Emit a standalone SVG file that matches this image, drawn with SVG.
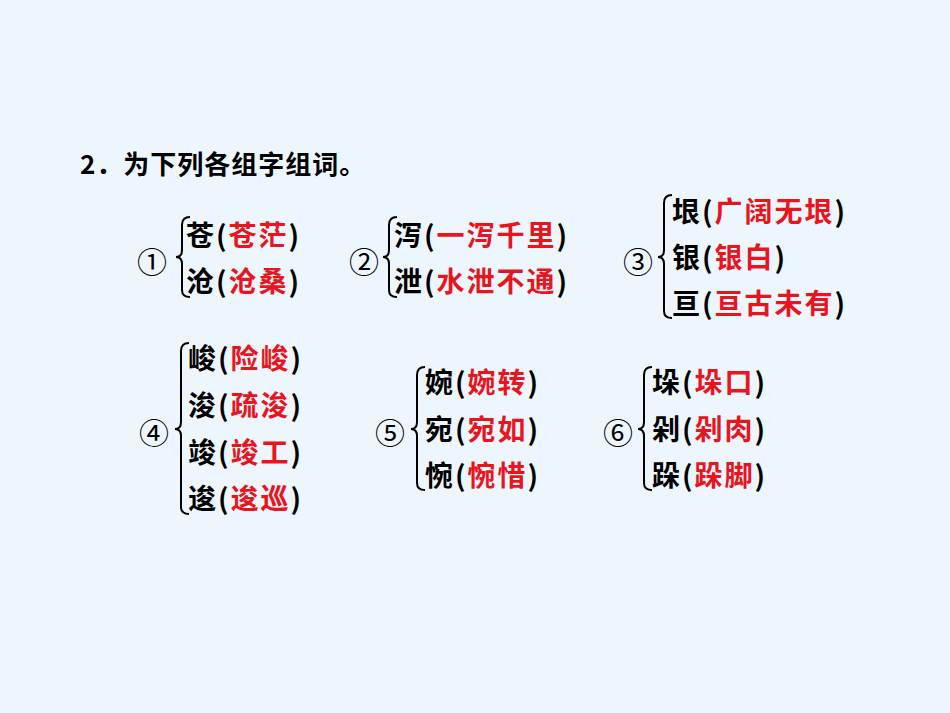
<svg xmlns="http://www.w3.org/2000/svg" width="950" height="713" viewBox="0 0 950 713">
<style>
text{font-family:"Noto Sans CJK SC","Liberation Sans",sans-serif;font-size:28px;font-weight:bold;fill:#000}
.t{font-size:26px;letter-spacing:1px}
.l{letter-spacing:2px}
.r{fill:#E8141E}
.b{fill:none;stroke:#000;stroke-width:2}
.n{font-size:30px;font-weight:normal}
</style>
<rect width="950" height="713" fill="#EEF6FD"/>
<text class="t" x="80" y="174">2．为下列各组字组词。</text>
<g id="g1">
<text class="n" x="137" y="273">①</text>
<path class="b" d="M190,217 Q182,217 182,225 L182,250 Q182,257 176,257 Q182,257 182,264 L182,290 Q182,297 190,297"/>
<text class="l" x="186" y="246">苍(<tspan class="r">苍茫</tspan>)</text>
<text class="l" x="186" y="292">沧(<tspan class="r">沧桑</tspan>)</text>
</g>
<g id="g2">
<text class="n" x="349" y="273">②</text>
<path class="b" d="M397,217 Q389,217 389,225 L389,250 Q389,257 383,257 Q389,257 389,264 L389,290 Q389,297 397,297"/>
<text class="l" x="394" y="246">泻(<tspan class="r">一泻千里</tspan>)</text>
<text class="l" x="394" y="292">泄(<tspan class="r">水泄不通</tspan>)</text>
</g>
<g id="g3">
<text class="n" x="623" y="273">③</text>
<path class="b" d="M672,195 Q664,195 664,203 L664,250 Q664,257 658,257 Q664,257 664,264 L664,311 Q664,318 672,318"/>
<text class="l" x="672" y="222">垠(<tspan class="r">广阔无垠</tspan>)</text>
<text class="l" x="672" y="268">银(<tspan class="r">银白</tspan>)</text>
<text class="l" x="672" y="314">亘(<tspan class="r">亘古未有</tspan>)</text>
</g>
<g id="g4">
<text class="n" x="139" y="444">④</text>
<path class="b" d="M189,343 Q181,343 181,351 L181,422 Q181,429 175,429 Q181,429 181,436 L181,507 Q181,514 189,514"/>
<text class="l" x="188" y="369">峻(<tspan class="r">险峻</tspan>)</text>
<text class="l" x="188" y="416">浚(<tspan class="r">疏浚</tspan>)</text>
<text class="l" x="188" y="463">竣(<tspan class="r">竣工</tspan>)</text>
<text class="l" x="188" y="509">逡(<tspan class="r">逡巡</tspan>)</text>
</g>
<g id="g5">
<text class="n" x="375" y="444">⑤</text>
<path class="b" d="M425,367 Q417,367 417,375 L417,422 Q417,429 411,429 Q417,429 417,436 L417,483 Q417,490 425,490"/>
<text class="l" x="425" y="393">婉(<tspan class="r">婉转</tspan>)</text>
<text class="l" x="425" y="440">宛(<tspan class="r">宛如</tspan>)</text>
<text class="l" x="425" y="486">惋(<tspan class="r">惋惜</tspan>)</text>
</g>
<g id="g6">
<text class="n" x="603" y="444">⑥</text>
<path class="b" d="M652,367 Q644,367 644,375 L644,422 Q644,429 638,429 Q644,429 644,436 L644,483 Q644,490 652,490"/>
<text class="l" x="652" y="393">垛(<tspan class="r">垛口</tspan>)</text>
<text class="l" x="652" y="440">剁(<tspan class="r">剁肉</tspan>)</text>
<text class="l" x="652" y="486">跺(<tspan class="r">跺脚</tspan>)</text>
</g>
</svg>
